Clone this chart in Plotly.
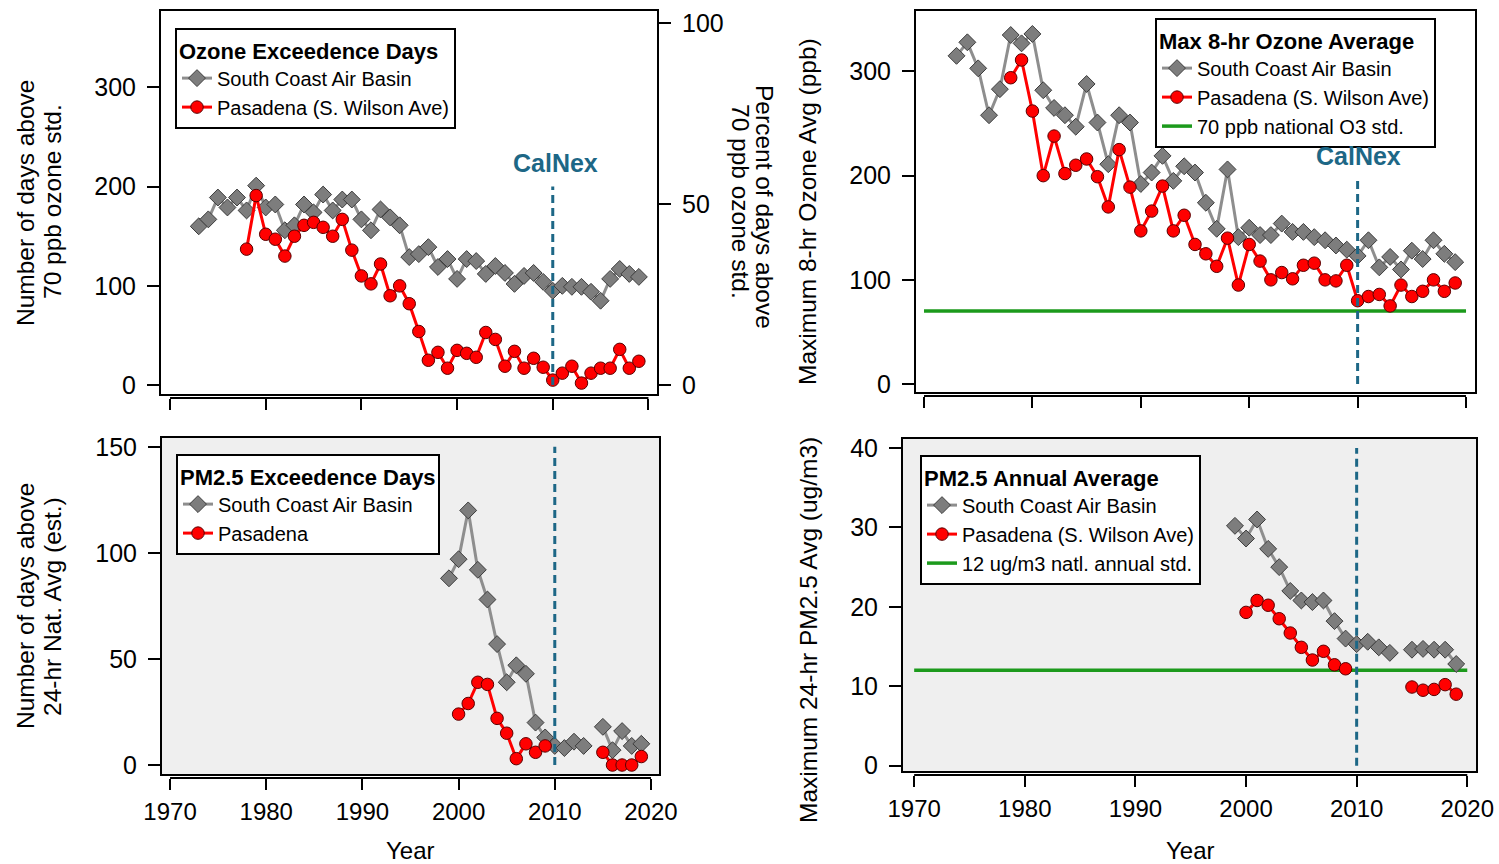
import plotly.graph_objects as go

# ---------------- data ----------------
years_sc_o3 = list(range(1973, 2020))
years_pas_o3 = list(range(1978, 2020))

# Ozone exceedence days (days above 70 ppb)
sc_o3_days = [160, 167, 189, 179, 189, 176, 201, 179, 182, 156, 161, 182, 174, 192, 176,
              187, 187, 167, 156, 177, 169, 161, 129, 132, 139, 119, 127, 107, 127, 125,
              112, 120, 113, 102, 110, 113, 104, 95, 100, 99, 99, 94, 85, 107, 117, 112, 109]
pas_o3_days = [137, 191, 152, 147, 130, 150, 161, 164, 159, 150, 167, 136, 110, 102, 122,
               90, 100, 82, 54, 25, 33, 17, 35, 32, 28, 53, 46, 19, 34, 17, 27, 18, 5, 12,
               19, 2, 12, 17, 17, 36, 17, 24]

# Max 8-hr ozone average (ppb)
sc_o3_max = [315, 328, 303, 258, 283, 335, 327, 336, 282, 265, 258, 247, 288, 251, 211,
             258, 251, 192, 203, 219, 195, 209, 203, 174, 149, 206, 141, 150, 143, 143,
             154, 146, 146, 141, 138, 133, 129, 123, 138, 112, 122, 110, 128, 120, 138, 125, 117]
pas_o3_max = [294, 311, 262, 200, 238, 202, 210, 216, 199, 170, 225, 189, 147, 166, 190,
              147, 162, 134, 125, 113, 140, 95, 134, 118, 100, 107, 101, 114, 116, 100, 99,
              114, 80, 84, 86, 75, 95, 84, 89, 100, 89, 97]
o3_std = 70

# PM2.5 exceedence days
years_sc_pm = list(range(1999, 2020))
sc_pm_days = [88, 97, 120, 92, 78, 57, 39, 47, 43, 20, 13, 9, 8, 11, 9, None, 18, 7, 16, 9, 10]
years_pas_pm = list(range(2000, 2020))
pas_pm_days = [24, 29, 39, 38, 22, 15, 3, 10, 6, 9, None, None, None, None, None, 6, 0, 0, 0, 4]

# PM2.5 annual average (ug/m3)
sc_pm_avg = [30.2, 28.6, 31.0, 27.3, 25.0, 22.0, 20.8, 20.6, 20.8, 18.2, 16.0, 15.3, 15.6,
             14.9, 14.2, None, 14.6, 14.7, 14.6, 14.6, 12.8]
pas_pm_avg = [19.3, 20.8, 20.2, 18.5, 16.7, 14.9, 13.3, 14.4, 12.7, 12.2, None, None, None,
              None, None, 9.9, 9.5, 9.6, 10.2, 9.0]
pm_std = 12

std_years = [1970, 2020]
calnex_year = 2010
x_ticks = [1970, 1980, 1990, 2000, 2010, 2020]

# ---------------- styling helpers ----------------
W, H = 1499, 864
FONT = "Liberation Sans, Arial, Helvetica, sans-serif"
GRAY_FILL = "#7d7d7d"
GRAY_LINE = "#8e8e8e"
RED = "#ff0000"
GREEN = "#1c9a1c"
CALNEX = "#1d6786"
PANEL_BG = "#efefef"


def px(x):
    return x / W


def py(y):
    return 1 - y / H


gray_marker = dict(symbol="diamond", size=13, color=GRAY_FILL, line=dict(color="#3c3c3c", width=1))
red_marker = dict(symbol="circle", size=12.5, color=RED, line=dict(color="#5a0000", width=1))

fig = go.Figure()

# panel geometry (pixel boxes)
panels = {
    "1": dict(x=(160, 658), y=(10, 395), xr=[1968.95, 2021.0], yr=[-10, 378], yt=[0, 100, 200, 300], lab=False),
    "2": dict(x=(915, 1476), y=(10, 393), xr=[1969.17, 2020.92], yr=[-8.6, 359], yt=[0, 100, 200, 300], lab=False),
    "3": dict(x=(161, 660), y=(437, 775), xr=[1969.06, 2020.94], yr=[-4.7, 154.6], yt=[0, 50, 100, 150], lab=True),
    "4": dict(x=(902, 1477), y=(438, 772), xr=[1968.9, 2020.88], yr=[-0.8, 41.26], yt=[0, 10, 20, 30, 40], lab=True),
}

# ---------------- traces ----------------
# Top-left: ozone exceedence days
fig.add_trace(go.Scatter(x=years_sc_o3, y=sc_o3_days, mode="lines+markers", name="South Coast Air Basin",
                         line=dict(color=GRAY_LINE, width=3), marker=gray_marker,
                         xaxis="x", yaxis="y", legend="legend"))
fig.add_trace(go.Scatter(x=years_pas_o3, y=pas_o3_days, mode="lines+markers", name="Pasadena (S. Wilson Ave)",
                         line=dict(color=RED, width=3), marker=red_marker,
                         xaxis="x", yaxis="y", legend="legend"))
fig.add_trace(go.Scatter(x=years_sc_o3, y=[v / 365 * 100 for v in sc_o3_days], mode="markers",
                         marker=dict(opacity=0), showlegend=False, hoverinfo="skip",
                         xaxis="x", yaxis="y5"))

# Top-right: max 8-hr ozone
fig.add_trace(go.Scatter(x=std_years, y=[o3_std, o3_std], mode="lines", name="70 ppb national O3 std.",
                         line=dict(color=GREEN, width=3.5), xaxis="x2", yaxis="y2", legend="legend2",
                         legendrank=3))
fig.add_trace(go.Scatter(x=years_sc_o3, y=sc_o3_max, mode="lines+markers", name="South Coast Air Basin",
                         line=dict(color=GRAY_LINE, width=3), marker=gray_marker,
                         xaxis="x2", yaxis="y2", legend="legend2", legendrank=1))
fig.add_trace(go.Scatter(x=years_pas_o3, y=pas_o3_max, mode="lines+markers", name="Pasadena (S. Wilson Ave)",
                         line=dict(color=RED, width=3), marker=red_marker,
                         xaxis="x2", yaxis="y2", legend="legend2", legendrank=2))

# Bottom-left: PM2.5 exceedence days
fig.add_trace(go.Scatter(x=years_sc_pm, y=sc_pm_days, mode="lines+markers", name="South Coast Air Basin",
                         line=dict(color=GRAY_LINE, width=3), marker=gray_marker,
                         xaxis="x3", yaxis="y3", legend="legend3"))
fig.add_trace(go.Scatter(x=years_pas_pm, y=pas_pm_days, mode="lines+markers", name="Pasadena",
                         line=dict(color=RED, width=3), marker=red_marker,
                         xaxis="x3", yaxis="y3", legend="legend3"))

# Bottom-right: PM2.5 annual average
fig.add_trace(go.Scatter(x=std_years, y=[pm_std, pm_std], mode="lines", name="12 ug/m3 natl. annual std.",
                         line=dict(color=GREEN, width=3.5), xaxis="x4", yaxis="y4", legend="legend4",
                         legendrank=3))
fig.add_trace(go.Scatter(x=years_sc_pm, y=sc_pm_avg, mode="lines+markers", name="South Coast Air Basin",
                         line=dict(color=GRAY_LINE, width=3), marker=gray_marker,
                         xaxis="x4", yaxis="y4", legend="legend4", legendrank=1))
fig.add_trace(go.Scatter(x=years_pas_pm, y=pas_pm_avg, mode="lines+markers", name="Pasadena (S. Wilson Ave)",
                         line=dict(color=RED, width=3), marker=red_marker,
                         xaxis="x4", yaxis="y4", legend="legend4", legendrank=2))

# ---------------- axes ----------------
layout = dict(
    width=W, height=H, margin=dict(l=0, r=0, t=0, b=0, pad=0, autoexpand=False),
    paper_bgcolor="white", plot_bgcolor="rgba(0,0,0,0)",
    font=dict(family=FONT, color="black"),
    showlegend=True,
)
shapes = []
for k, p in panels.items():
    xa = "xaxis" if k == "1" else "xaxis" + k
    ya = "yaxis" if k == "1" else "yaxis" + k
    xid = "x" if k == "1" else "x" + k
    yid = "y" if k == "1" else "y" + k
    axis_y = py(p["y"][1] + 3)
    layout[xa] = dict(domain=[px(p["x"][0]), px(p["x"][1])], range=p["xr"], anchor="free",
                      position=axis_y, tickvals=x_ticks, ticks="outside", ticklen=11, tickwidth=2,
                      tickcolor="black", showline=False, showgrid=False, zeroline=False,
                      showticklabels=p["lab"], tickfont=dict(size=24), ticklabelstandoff=1,
                      automargin=False)
    layout[ya] = dict(domain=[py(p["y"][1]), py(p["y"][0])], range=p["yr"], anchor=xid,
                      tickvals=p["yt"], ticks="outside", ticklen=12, tickwidth=2, tickcolor="black",
                      showline=False, showgrid=False, zeroline=False, tickfont=dict(size=25),
                      ticklabelstandoff=6, automargin=False)
    if p["lab"]:
        shapes.append(dict(type="rect", xref=xid + " domain", yref=yid + " domain", x0=0, x1=1, y0=0, y1=1,
                           fillcolor=PANEL_BG, line=dict(width=0), layer="below"))
    shapes.append(dict(type="rect", xref=xid + " domain", yref=yid + " domain", x0=0, x1=1, y0=0, y1=1,
                       line=dict(color="black", width=2), layer="above"))
    shapes.append(dict(type="line", xref=xid, yref="paper", x0=x_ticks[0], x1=x_ticks[-1],
                       y0=axis_y, y1=axis_y, line=dict(color="black", width=2)))

layout["yaxis5"] = dict(overlaying="y", side="right", anchor="x", range=[-10 / 3.65, 378 / 3.65],
                        tickvals=[0, 50, 100], ticks="outside", ticklen=12, tickwidth=2, tickcolor="black",
                        showline=False, showgrid=False, zeroline=False, tickfont=dict(size=25),
                        ticklabelstandoff=6, automargin=False)

# CalNex dashed lines
calnex_spans = {"1": (0, 200), "2": (0, 198), "3": (0, 150), "4": (0, 40)}
for k, (a, b) in calnex_spans.items():
    xid = "x" if k == "1" else "x" + k
    yid = "y" if k == "1" else "y" + k
    shapes.append(dict(type="line", xref=xid, yref=yid, x0=calnex_year, x1=calnex_year, y0=a, y1=b,
                       line=dict(color=CALNEX, width=3, dash="8px,5px")))
layout["shapes"] = shapes

# ---------------- legends ----------------
def legend_box(x, y, title):
    return dict(x=px(x), y=py(y), xanchor="left", yanchor="top", bgcolor="white", bordercolor="black",
                borderwidth=2, font=dict(size=20, family=FONT), tracegroupgap=0, itemwidth=30,
                title=dict(text="<b>" + title + "</b>", font=dict(size=22, family=FONT)))


layout["legend"] = legend_box(175, 28, "Ozone Exceedence Days")
layout["legend2"] = legend_box(1155, 18, "Max 8-hr Ozone Average")
layout["legend3"] = legend_box(176, 454, "PM2.5 Exceedence Days")
layout["legend4"] = legend_box(920, 455, "PM2.5 Annual Average")

# ---------------- annotations ----------------
ann = []


def text(x, y, s, size=24.5, angle=0, bold=False, color="black"):
    ann.append(dict(x=px(x), y=py(y), xref="paper", yref="paper", text=("<b>%s</b>" % s) if bold else s,
                    showarrow=False, textangle=angle, xanchor="center", yanchor="middle",
                    font=dict(size=size, color=color, family=FONT)))


text(25, 203, "Number of days above", angle=-90)
text(52, 202, "70 ppb ozone std.", angle=-90)
text(765, 207, "Percent of days above", angle=90)
text(740, 201, "70 ppb ozone std.", angle=90)
text(808, 212, "Maximum 8-hr Ozone Avg (ppb)", angle=-90)
text(25, 606, "Number of days above", angle=-90)
text(52, 607, "24-hr Nat. Avg (est.)", angle=-90)
text(808, 630, "Maximum 24-hr PM2.5 Avg (ug/m3)", angle=-90)
text(410, 850, "Year", size=24)
text(1190, 850, "Year", size=24)
text(555, 163, "CalNex", size=25, bold=True, color=CALNEX)
text(1358, 156, "CalNex", size=25, bold=True, color=CALNEX)
layout["annotations"] = ann

fig.update_layout(**layout)
fig.write_html("out.html", config={"displayModeBar": False},
               post_script="document.body.style.margin='0px';document.body.style.overflow='hidden';")
